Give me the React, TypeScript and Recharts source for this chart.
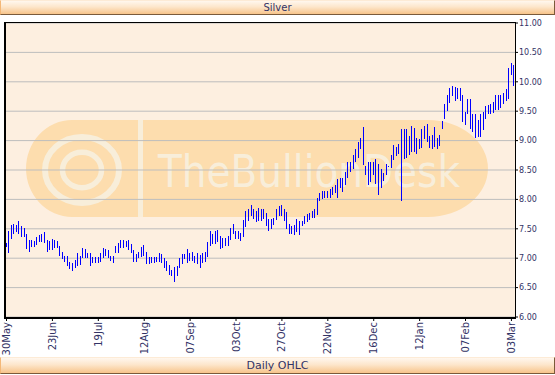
import React from "react";
import { BarChart, Bar, XAxis, YAxis, CartesianGrid } from "recharts";

// daily high / low, 30 May .. 04 Mar (one entry per trading day)
const highs = [
  7.26, 7.46, 7.57, 7.58, 7.57, 7.63, 7.54, 7.52, 7.42, 7.31,
  7.31, 7.29, 7.36, 7.4, 7.41, 7.44, 7.31, 7.29, 7.32, 7.31,
  7.29, 7.21, 7.1, 7.04, 7.04, 6.93, 6.92, 6.97, 7.09, 7.03,
  7.17, 7.15, 7.08, 7.09, 7.02, 7.02, 7.02, 7.08, 7.18, 7.16,
  7.14, 7.03, 7.03, 7.21, 7.26, 7.31, 7.31, 7.29, 7.31, 7.24,
  7.14, 7.07, 7.11, 7.19, 7.23, 7.11, 7.02, 7.02, 7.02, 7.02,
  7.08, 7.07, 7.01, 6.96, 6.89, 6.8, 6.85, 6.86, 7.0, 7.07,
  7.07, 7.16, 7.09, 7.11, 7.04, 7.08, 7.06, 7.08, 7.1, 7.27,
  7.46, 7.42, 7.46, 7.48, 7.37, 7.35, 7.35, 7.37, 7.52, 7.59,
  7.46, 7.46, 7.43, 7.65, 7.8, 7.83, 7.9, 7.83, 7.8, 7.85,
  7.83, 7.84, 7.77, 7.66, 7.66, 7.69, 7.83, 7.89, 7.9, 7.84,
  7.79, 7.58, 7.54, 7.56, 7.67, 7.63, 7.64, 7.72, 7.75, 7.77,
  7.81, 7.83, 8.03, 8.11, 8.15, 8.15, 8.14, 8.17, 8.21, 8.24,
  8.35, 8.37, 8.37, 8.47, 8.63, 8.64, 8.75, 8.86, 8.98, 9.04,
  9.23, 8.56, 8.63, 8.63, 8.64, 8.68, 8.6, 8.52, 8.45, 8.6,
  8.57, 8.75, 8.93, 8.89, 8.94, 9.19, 9.2, 9.19, 9.08, 9.25,
  9.22, 9.05, 9.03, 9.2, 9.25, 9.28, 9.08, 9.09, 9.23, 9.05,
  9.09, 9.34, 9.62, 9.77, 9.89, 9.93, 9.92, 9.9, 9.89, 9.77,
  9.49, 9.7, 9.71, 9.46, 9.46, 9.35, 9.45, 9.49, 9.59, 9.6,
  9.62, 9.66, 9.77, 9.77, 9.77, 9.81, 9.87, 10.24, 10.32, 10.29,
];

const lows = [
  7.19, 7.09, 7.33, 7.42, 7.45, 7.41, 7.36, 7.36, 7.16, 7.11,
  7.19, 7.19, 7.23, 7.27, 7.27, 7.26, 7.11, 7.14, 7.14, 7.18,
  7.18, 7.03, 6.98, 6.93, 6.86, 6.81, 6.79, 6.83, 6.87, 6.89,
  7.0, 7.0, 7.0, 6.86, 6.91, 6.91, 6.91, 6.94, 7.0, 7.03,
  7.01, 6.96, 6.91, 7.08, 7.09, 7.18, 7.17, 7.19, 7.14, 7.09,
  6.94, 6.93, 7.0, 7.02, 7.03, 6.9, 6.9, 6.91, 6.92, 6.93,
  6.93, 6.91, 6.83, 6.78, 6.71, 6.69, 6.59, 6.7, 6.84, 6.9,
  6.98, 6.92, 6.95, 6.96, 6.91, 6.9, 6.84, 6.91, 6.93, 7.02,
  7.2, 7.25, 7.25, 7.28, 7.15, 7.17, 7.21, 7.21, 7.31, 7.41,
  7.33, 7.33, 7.29, 7.36, 7.53, 7.64, 7.71, 7.66, 7.62, 7.64,
  7.63, 7.67, 7.54, 7.47, 7.5, 7.56, 7.65, 7.71, 7.71, 7.63,
  7.5, 7.42, 7.42, 7.4, 7.44, 7.4, 7.54, 7.58, 7.62, 7.65,
  7.68, 7.69, 7.73, 7.97, 8.0, 8.02, 8.03, 8.02, 8.08, 8.11,
  8.02, 8.19, 8.12, 8.25, 8.36, 8.46, 8.51, 8.63, 8.7, 8.86,
  8.58, 8.42, 8.24, 8.29, 8.41, 8.27, 8.08, 8.19, 8.32, 8.41,
  8.55, 8.53, 8.67, 8.73, 8.78, 7.98, 8.68, 8.71, 8.75, 8.81,
  8.8, 8.77, 8.86, 8.88, 9.03, 8.97, 8.88, 8.85, 8.89, 8.86,
  8.91, 9.19, 9.36, 9.51, 9.64, 9.76, 9.68, 9.71, 9.68, 9.32,
  9.27, 9.45, 9.2, 9.14, 9.05, 9.06, 9.06, 9.18, 9.37, 9.45,
  9.45, 9.47, 9.52, 9.52, 9.56, 9.62, 9.68, 9.71, 10.12, 9.93,
];

const xTicks = [0, 18, 36, 54, 72, 90, 108, 126, 144, 162, 180, 198];
const xLabels = ["30May", "23Jun", "19Jul", "12Aug", "07Sep", "03Oct", "27Oct", "22Nov", "16Dec", "12Jan", "07Feb", "03Mar"];
const yTicks = [6, 6.5, 7, 7.5, 8, 8.5, 9, 9.5, 10, 10.5, 11];

const data = highs.map((h, i) => ({ day: i, range: [lows[i], h] }));

const INK = "#333366";

const HiLo = (props: any) => {
  const { x, y, width, height } = props;
  if (x == null || y == null) return null;
  const cx = Math.floor(x + width / 2);
  return <rect x={cx} y={y} width={1} height={Math.max(height, 1)} fill="#0000FF" shapeRendering="crispEdges" />;
};

const DateTick = (props: any) => {
  const { x, y, payload } = props;
  const label = xLabels[xTicks.indexOf(payload.value)];
  return (
    <g transform={`translate(${x},${y})`}>
      <text transform="rotate(-90)" x={-1} y={0} dy="0.35em" textAnchor="end" fill={INK} fontSize={10}>
        {label}
      </text>
    </g>
  );
};

const bar = (top: number, height: number, fontSize: number) => ({
  position: "absolute" as const,
  left: 0,
  top,
  width: 555,
  height,
  boxSizing: "border-box" as const,
  background: "linear-gradient(to bottom, #FFF7EE 0%, #FDE6CB 45%, #F7C48A 100%)",
  borderTop: "1px solid #FDEBD6",
  borderLeft: "1px solid #F4B878",
  borderRight: "1px solid #7A5A3A",
  borderBottom: "1px solid #7A5A3A",
  color: INK,
  fontSize,
  lineHeight: `${height - 2}px`,
  textAlign: "center" as const,
});

const Watermark = () => (
  <svg width={555} height={375} style={{ position: "absolute", left: 0, top: 0 }}>
    <path d="M138,120 L72,120 A46,48.5 0 0 0 72,217 L138,217 Z" fill="#FDDDAE" />
    <ellipse cx={82} cy={170} rx={37} ry={33} fill="none" stroke="#F8EEDA" strokeWidth={6} />
    <ellipse cx={82} cy={170} rx={19.5} ry={17.8} fill="none" stroke="#F8EEDA" strokeWidth={5.5} />
    <rect x={138} y={120} width={5} height={97} fill="#F8EEDA" />
    <path d="M143,120 L428,120 A60,48.5 0 0 1 428,217 L143,217 Z" fill="#FDDDAE" />
    <text x={158} y={187} fontSize={45} fill="#F8EEDA" textLength={302} lengthAdjust="spacingAndGlyphs">
      TheBullionDesk
    </text>
  </svg>
);

const App = () => {
  return (
    <div style={{ position: "absolute", left: 0, top: 0, width: 555, height: 375, background: "#fff", fontFamily: "DejaVu Sans" }}>
      <div style={bar(0, 15, 10)}>Silver</div>
      <div style={{ position: "absolute", left: 6, top: 23, width: 509, height: 294, background: "#FDEFE0" }} />
      <Watermark />
      <div style={{ position: "absolute", left: 0, top: 0 }}>
        <BarChart width={555} height={375} data={data} margin={{ top: 23, right: 0, bottom: 18, left: 6 }}>
          <CartesianGrid vertical={false} stroke="#BDBDBD" />
          <XAxis
            dataKey="day"
            type="number"
            domain={[-0.2, 199.4]}
            allowDataOverflow
            ticks={xTicks}
            interval={0}
            height={40}
            axisLine={false}
            tickLine={{ stroke: "#000" }}
            tickSize={4}
            tickMargin={0}
            tick={<DateTick />}
          />
          <YAxis
            orientation="right"
            type="number"
            domain={[6, 11]}
            allowDataOverflow
            ticks={yTicks}
            interval={0}
            width={40}
            axisLine={false}
            tickLine={{ stroke: "#000" }}
            tickSize={3}
            tickMargin={1}
            tickFormatter={(v: number) => v.toFixed(2)}
            tick={{ fill: INK, fontSize: 8 }}
          />
          <Bar dataKey="range" barSize={2} shape={<HiLo />} isAnimationActive={false} />
        </BarChart>
      </div>
      <div
        style={{
          position: "absolute",
          left: 4,
          top: 22,
          width: 512,
          height: 297,
          boxSizing: "border-box",
          borderLeft: "2px solid #000",
          borderBottom: "2px solid #000",
          borderTop: "1px solid #000",
          borderRight: "1px solid #000",
        }}
      />
      <div style={bar(357, 17, 11)}>Daily OHLC</div>
    </div>
  );
};

export default App;
